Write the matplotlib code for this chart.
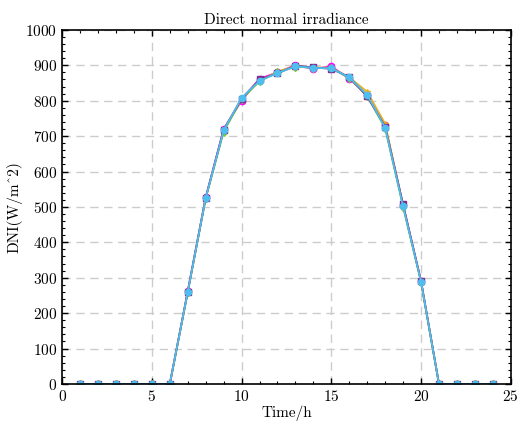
import matplotlib
matplotlib.use("Agg")
import matplotlib.pyplot as plt
from matplotlib.ticker import MultipleLocator

plt.rcParams['font.family'] = ['cmr10', 'DejaVu Serif']
plt.rcParams['axes.formatter.use_mathtext'] = True
plt.rcParams['mathtext.fontset'] = 'cm'

hours = list(range(1, 25))
s_magenta = [0, 0, 0, 0, 0, 0, 262, 527, 720, 800, 862, 880, 900, 890, 897, 862, 815, 730, 505, 290, 0, 0, 0, 0]
s_yellow  = [0, 0, 0, 0, 0, 0, 260, 525, 716, 806, 856, 882, 898, 894, 893, 866, 825, 735, 503, 289, 0, 0, 0, 0]
s_green   = [0, 0, 0, 0, 0, 0, 259, 524, 712, 804, 855, 880, 896, 893, 892, 864, 813, 722, 500, 288, 0, 0, 0, 0]
s_purple  = [0, 0, 0, 0, 0, 0, 261, 526, 718, 806, 860, 877, 899, 894, 890, 867, 812, 727, 507, 291, 0, 0, 0, 0]
s_blue    = [0, 0, 0, 0, 0, 0, 260, 525, 716, 808, 856, 878, 897, 893, 891, 866, 816, 724, 502, 289, 0, 0, 0, 0]

series = [s_magenta, s_yellow, s_green, s_purple, s_blue]
colors = ['#FF00FF', '#EDB120', '#77D42F', '#7E2F8E', '#4DBEEE']
markers = ['o', '*', 'd', 's', 'o']

fig = plt.figure(figsize=(5.18, 4.21), dpi=100)
ax = fig.add_axes([0.12, 0.088, 0.866, 0.841])

for s, c, m in zip(series, colors, markers):
    ax.plot(hours, s, color=c, marker=m, markersize=4.5, linewidth=1.3)

ax.set_xlim(0, 25)
ax.set_ylim(0, 1000)
ax.xaxis.set_major_locator(MultipleLocator(5))
ax.xaxis.set_minor_locator(MultipleLocator(1))
ax.yaxis.set_major_locator(MultipleLocator(100))
ax.yaxis.set_minor_locator(MultipleLocator(20))
ax.tick_params(which='both', direction='in', top=True, right=True, labelsize=11)
ax.tick_params(which='major', length=4, width=1)
ax.tick_params(which='minor', length=2.5, width=0.8)
for sp in ax.spines.values():
    sp.set_linewidth(1.2)
ax.grid(True, which='major', linestyle=(0, (6, 4)), color='#cccccc', linewidth=1)
ax.set_axisbelow(True)

ax.set_title('Direct normal irradiance', fontsize=11, pad=4)
ax.set_xlabel('Time/h', fontsize=11, labelpad=1)
ax.set_ylabel('DNI(W/m^2)', fontsize=11, labelpad=2)

fig.savefig('out.png', dpi=100)
